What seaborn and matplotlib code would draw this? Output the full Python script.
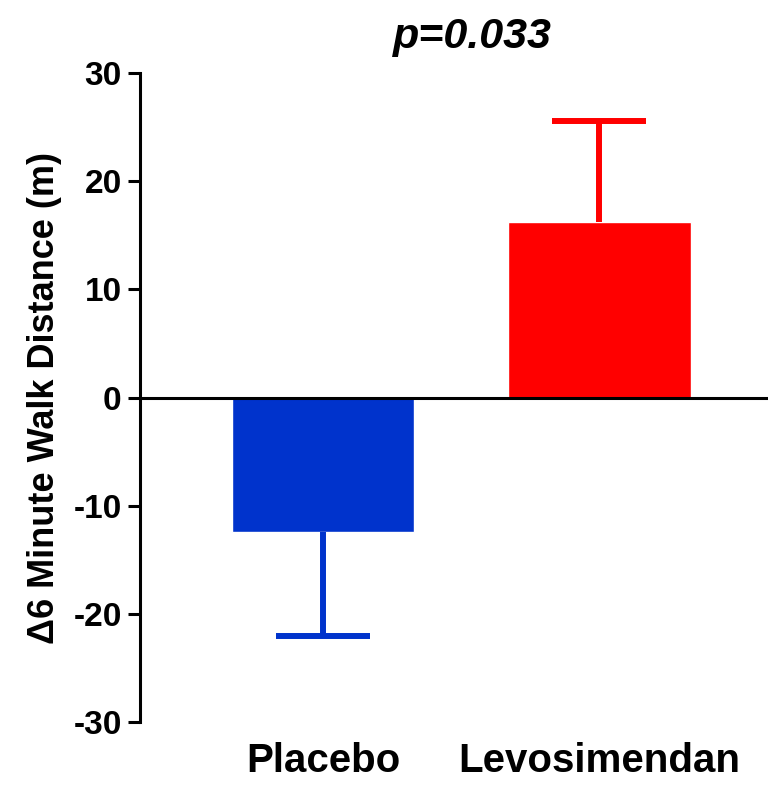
import pandas as pd
import matplotlib.pyplot as plt
import seaborn as sns

# values
groups = ['Placebo', 'Levosimendan']
change = [-12.4, 16.2]
sem = [9.6, 9.4]
bar_colors = ['#0033CC', '#FF0000']
yticks = [-30, -20, -10, 0, 10, 20, 30]

df = pd.DataFrame({'Group': groups, 'Change': change})

sns.set_style('ticks')
plt.rcParams['font.family'] = ['Liberation Sans', 'DejaVu Sans']
plt.rcParams['font.weight'] = 'bold'
plt.rcParams['text.color'] = 'black'
plt.rcParams['axes.labelcolor'] = 'black'
plt.rcParams['xtick.color'] = 'black'
plt.rcParams['ytick.color'] = 'black'

fig = plt.figure(figsize=(7.68, 7.85), dpi=100)
ax = fig.add_axes([0.182, 0.080, 0.818, 0.827])

sns.barplot(x='Group', y='Change', data=df, hue='Group', palette=bar_colors,
            width=0.66, ax=ax, legend=False, saturation=1)

# one-sided error bars pointing away from zero
for i, (v, e, c) in enumerate(zip(change, sem, bar_colors)):
    lower = e if v < 0 else 0
    upper = e if v > 0 else 0
    _, caps, _ = ax.errorbar(i, v, yerr=[[lower], [upper]], color=c, elinewidth=4.3,
                             capsize=34, capthick=4.3, fmt='none')
    # hide the cap sitting on the bar end
    caps[1 if v < 0 else 0].set_visible(False)

ax.axhline(0, color='black', lw=2.2)
ax.set_xlim(-0.663, 1.61)
ax.set_ylim(-30, 30)
ax.set_yticks(yticks)
ax.set_yticklabels([str(t) for t in yticks], fontsize=24, fontweight='bold')
ax.set_xticks([0, 1])
ax.set_xticklabels(groups, fontsize=29, fontweight='bold')
ax.tick_params(axis='x', length=0, pad=14)
ax.tick_params(axis='y', length=9, width=2.2, pad=4)
sns.despine(ax=ax, bottom=True)
ax.spines['left'].set_linewidth(2.2)
ax.spines['left'].set_color('black')
ax.set_xlabel('')
ax.set_ylabel('Δ6 Minute Walk Distance (m)', fontsize=26, fontweight='bold', labelpad=8)

ax.text(0.54, 31.5, 'p=0.033', fontsize=31, fontweight='bold', style='italic',
        ha='center', va='bottom')

fig.savefig('out.png', dpi=100)
